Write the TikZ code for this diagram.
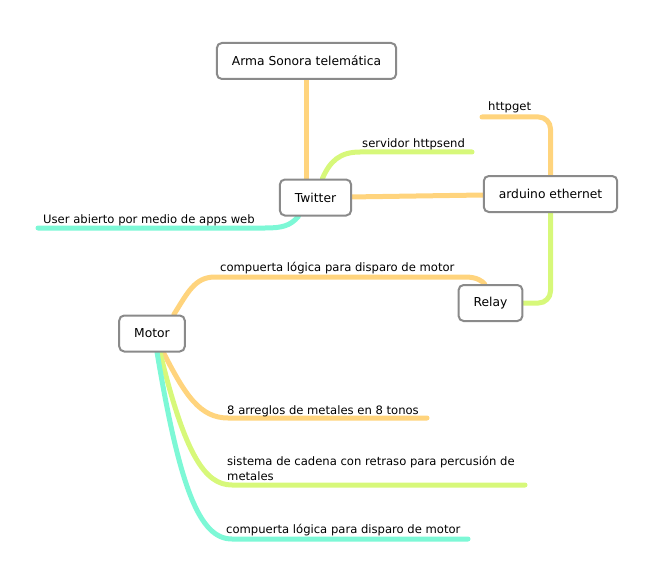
\documentclass[tikz,border=0pt]{standalone}
\usepackage{fontspec}
\setmainfont{DejaVu Sans}
\usetikzlibrary{backgrounds}
\definecolor{branchorange}{RGB}{255,212,125}
\definecolor{branchlime}{RGB}{215,248,122}
\definecolor{branchaqua}{RGB}{125,248,214}
\definecolor{boxgray}{RGB}{138,138,138}

\begin{document}
\begin{tikzpicture}[x=1pt, y=-1pt,
  main node/.style={draw=boxgray, line width=2pt, rounded corners=5pt, fill=white,
    minimum height=36pt, inner xsep=15pt, font=\fontsize{12.3}{14}\selectfont},
  leaf/.style={anchor=base west, inner sep=0pt, font=\fontsize{11.6}{15}\selectfont, align=left},
  branch/.style={line width=5pt, line cap=round, line join=round}]
\useasboundingbox (0,0) rectangle (660,580);
\node[main node] (arma) at (306.5,61) {Arma Sonora telemática};
\node[main node] (twitter) at (315.5,197.5) {Twitter};
\node[main node] (arduino) at (550.5,194) {arduino ethernet};
\node[main node] (relay) at (490.5,303) {Relay};
\node[main node] (motor) at (152,333.5) {Motor};
\coordinate (httpsend) at (472,152);
\coordinate (webuser) at (38,228);
\coordinate (httpget) at (482,117);
\coordinate (metales) at (427,418);
\coordinate (cadena) at (525,485);
\coordinate (compuerta) at (468,539);
\node[leaf] (httpsend label) at (362,147) {servidor httpsend};
\node[leaf] (webuser label) at (43,223) {User abierto por medio de apps web};
\node[leaf] (httpget label) at (488,111) {httpget};
\node[leaf] (relay label) at (220,271) {compuerta lógica para disparo de motor};
\node[leaf] (metales label) at (227,414) {8 arreglos de metales en 8 tonos};
\node[leaf, anchor=north west] (cadena label) at (227,456) {sistema de cadena con retraso para percusión de\\metales};
\node[leaf] (compuerta label) at (226,533) {compuerta lógica para disparo de motor};
\begin{scope}[on background layer]
\draw[branch, branchorange] (arma) -- (arma |- twitter);
\draw[branch, branchorange] (twitter) -- (arduino);
\draw[branch, branchlime] (twitter.70) .. controls (330,161) and (340,152) .. (360,152) -- (httpsend);
\draw[branch, branchaqua] (twitter.228) .. controls (290,226) and (282,228) .. (265,228) -- (webuser);
\draw[branch, branchorange, rounded corners=12pt] (arduino.north) |- (httpget);
\draw[branch, branchlime, rounded corners=12pt] (arduino.south) |- (relay.east);
\draw[branch, branchorange] (relay.107) .. controls (482,281) and (477,277) .. (465,277) -- (215,277) .. controls (195,277) and (188,292) .. (motor.41);
\draw[branch, branchorange] (motor.301) .. controls (185,395) and (200,418) .. (228,418) -- (metales);
\draw[branch, branchlime] (motor.293) .. controls (185,455) and (205,485) .. (232,485) -- (cadena);
\draw[branch, branchaqua] (motor.285) .. controls (180,490) and (200,539) .. (232,539) -- (compuerta);
\end{scope}
\end{tikzpicture}
\end{document}
